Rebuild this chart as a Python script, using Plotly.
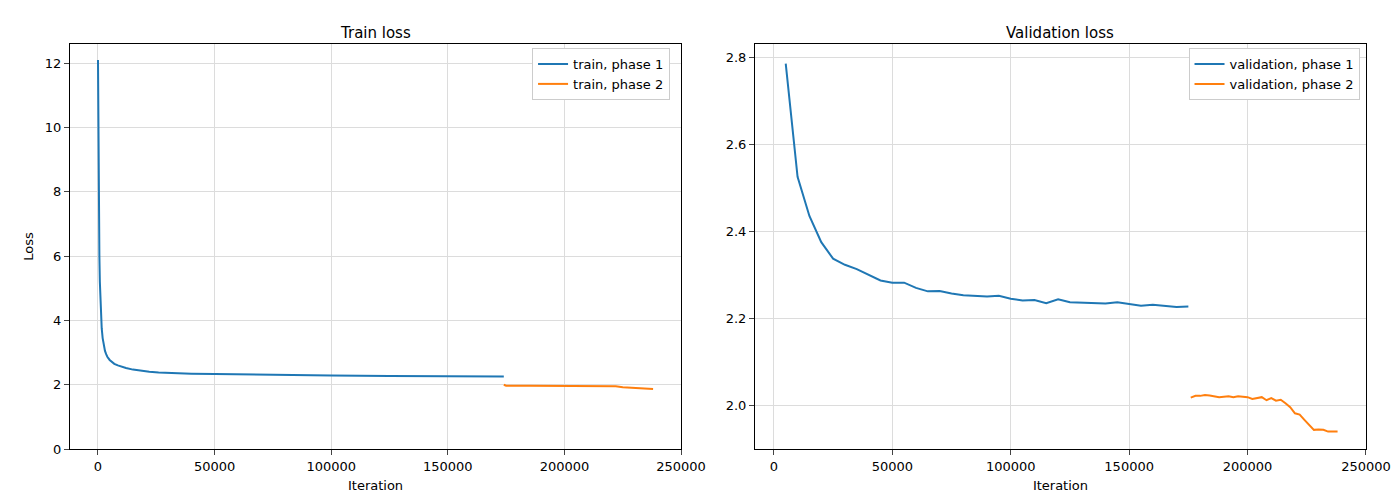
import plotly.graph_objs as go
from plotly.subplots import make_subplots

train1_x = [0, 200, 400, 600, 800, 1000, 1300, 1600, 2000, 2500, 3000, 3500, 4000, 5000, 6000, 7000, 8500, 10000, 12000, 15000, 18000, 22000, 26000, 30000, 40000, 50000, 75000, 100000, 125000, 150000, 174000]
train1_y = [12.1, 9.0, 7.2, 6.0, 5.2, 4.6, 4.1, 3.75, 3.45, 3.2, 3.05, 2.95, 2.87, 2.77, 2.7, 2.65, 2.6, 2.56, 2.52, 2.47, 2.43, 2.4, 2.38, 2.365, 2.345, 2.33, 2.3, 2.285, 2.27, 2.26, 2.255]
train2_x = [174000, 175000, 185000, 200000, 215000, 222000, 225000, 230000, 235000, 238000]
train2_y = [2.0, 1.97, 1.965, 1.96, 1.955, 1.95, 1.92, 1.9, 1.88, 1.87]

val1_x = list(range(5000, 175001, 5000))
val1_y = [2.785, 2.525, 2.435, 2.375, 2.337, 2.323, 2.313, 2.300, 2.287, 2.282,
          2.282, 2.270, 2.262, 2.263, 2.257, 2.253, 2.252, 2.250, 2.252, 2.245,
          2.241, 2.242, 2.235, 2.244, 2.237, 2.236, 2.235, 2.234, 2.237, 2.233,
          2.229, 2.231, 2.228, 2.226, 2.227]
val2_x = list(range(176000, 238001, 2000))
val2_y = [2.018, 2.022, 2.022, 2.024, 2.023, 2.021, 2.019, 2.020, 2.021, 2.019,
          2.021, 2.020, 2.019, 2.015, 2.017, 2.019, 2.012, 2.017, 2.011, 2.013,
          2.005, 1.996, 1.982, 1.979, 1.967, 1.955, 1.944, 1.945, 1.944, 1.940,
          1.940, 1.940]

blue, orange = '#1f77b4', '#ff7f0e'
fig = make_subplots(rows=1, cols=2, subplot_titles=('Train loss', 'Validation loss'), horizontal_spacing=0.057)
fig.add_trace(go.Scatter(x=train1_x, y=train1_y, mode='lines', name='train, phase 1', line=dict(color=blue, width=2), legend='legend'), 1, 1)
fig.add_trace(go.Scatter(x=train2_x, y=train2_y, mode='lines', name='train, phase 2', line=dict(color=orange, width=2), legend='legend'), 1, 1)
fig.add_trace(go.Scatter(x=val1_x, y=val1_y, mode='lines', name='validation, phase 1', line=dict(color=blue, width=2), legend='legend2'), 1, 2)
fig.add_trace(go.Scatter(x=val2_x, y=val2_y, mode='lines', name='validation, phase 2', line=dict(color=orange, width=2), legend='legend2'), 1, 2)

ax = dict(showline=True, mirror=True, linecolor='black', linewidth=1, ticks='outside',
          gridcolor='#dcdcdc', zeroline=False, tickfont=dict(size=13), automargin=False)
fig.update_xaxes(ax, title=dict(text='Iteration', font=dict(size=13), standoff=8), range=[-12000, 250000], dtick=50000, tickformat='d')
fig.update_xaxes(range=[-8000, 250000], row=1, col=2)
fig.update_yaxes(ax)
fig.update_yaxes(range=[0, 12.6], dtick=2, title=dict(text='Loss', font=dict(size=13), standoff=8), row=1, col=1)
fig.update_yaxes(range=[1.9, 2.83], dtick=0.2, tickformat='.1f', row=1, col=2)
for a in fig.layout.annotations:
    a.font = dict(size=15, color='black')

leg = dict(xanchor='right', yanchor='top', bordercolor='#cccccc', borderwidth=1, bgcolor='white', font=dict(size=13))
fig.update_layout(
    width=1400, height=500, plot_bgcolor='white', paper_bgcolor='white',
    font=dict(family='DejaVu Sans', color='black'),
    margin=dict(l=62, r=42, t=36, b=59),
    legend=dict(leg, x=0.463, y=0.99),
    legend2=dict(leg, x=0.995, y=0.99),
)
fig.write_html("out.html")
